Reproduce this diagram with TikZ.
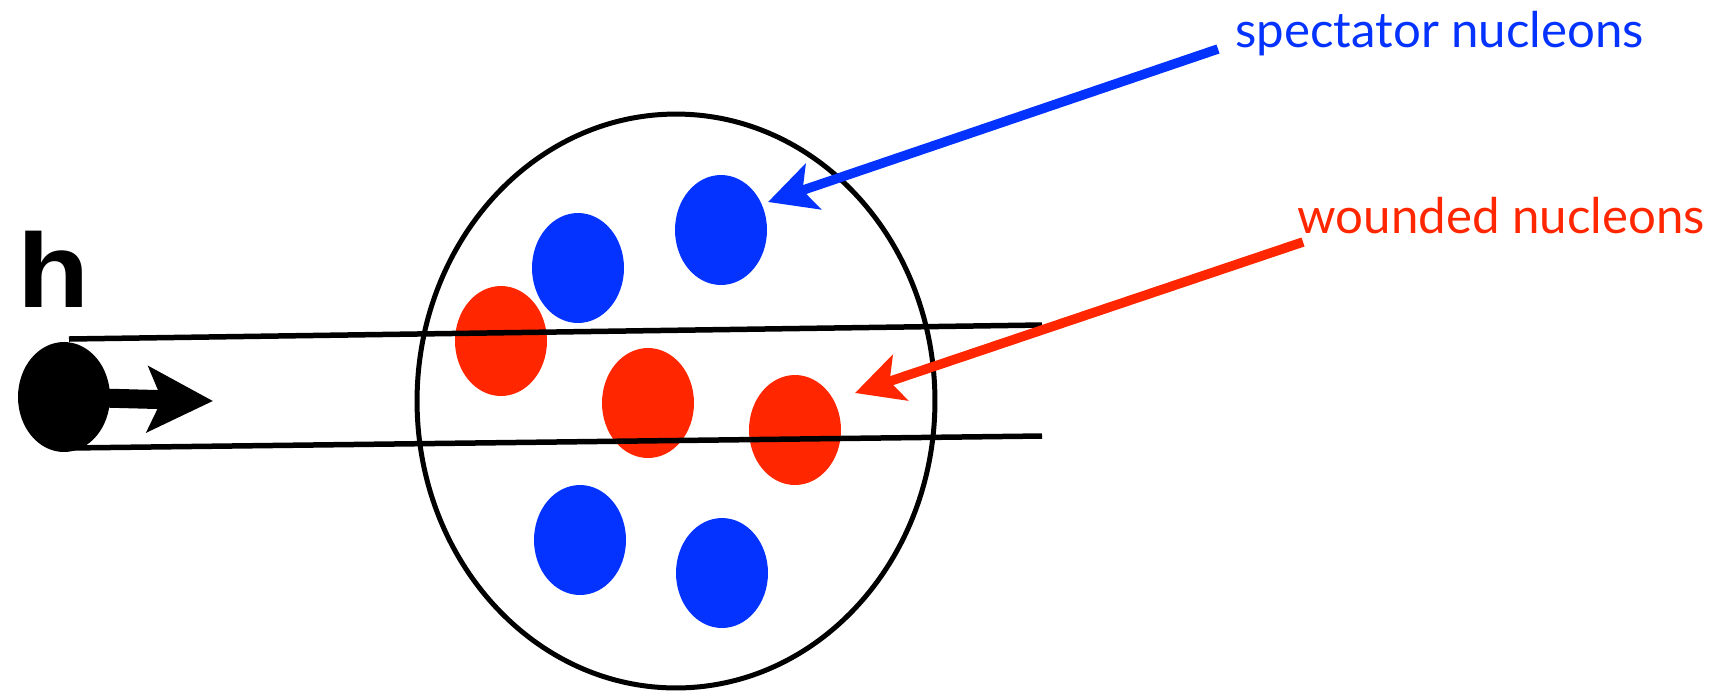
\documentclass[tikz,border=0pt]{standalone}
\usepackage{fontspec}
\setmainfont{Lato}
\newfontfamily\hfont{Liberation Sans}
\usetikzlibrary{arrows.meta,shapes.geometric}
\definecolor{specblue}{RGB}{4,51,255}
\definecolor{woundred}{RGB}{255,38,0}
\begin{document}
\begin{tikzpicture}[x=0.02cm,y=-0.02cm,
    nucleon/.style={ellipse,inner sep=0pt,minimum width=1.84cm,minimum height=2.2cm},
    spectator/.style={nucleon,fill=specblue},
    wounded/.style={nucleon,fill=woundred},
    pointer/.style={line width=0.19cm,-{Stealth[length=0.95cm,width=0.95cm,inset=0.22cm]}},
    beam/.style={line width=0.11cm},
    tagtext/.style={anchor=base west,inner sep=0pt,font=\fontsize{28}{32}\selectfont}]
          \useasboundingbox (0,0) rectangle (1734,691);

          % Nodes
          \node[ellipse,draw,line width=0.1cm,inner sep=0pt,minimum width=10.36cm,minimum height=11.48cm] (nucleus) at (676,401) {};
          \node[spectator] (s1) at (721,230) {};
          \node[spectator] (s2) at (578,268) {};
          \node[spectator] (s3) at (580,540) {};
          \node[spectator] (s4) at (722,573) {};
          \node[wounded] (w1) at (501,341) {};
          \node[wounded] (w2) at (648,403) {};
          \node[wounded] (w3) at (795,430) {};
          \node[ellipse,fill=black,inner sep=0pt,minimum width=1.84cm,minimum height=2.2cm] (hadron) at (64,397) {};
          \node[anchor=base west,font=\hfont\bfseries\fontsize{60}{62}\selectfont,inner sep=0pt] (h) at (17,307) {\scalebox{1.12}[1]{h}};

          % Labels
          \node[tagtext,text=specblue] (speclabel) at (1235,47) {spectator nucleons};
          \node[tagtext,text=woundred] (woundlabel) at (1297,233) {wounded nucleons};
          \coordinate (specstart) at (1218,49);
          \coordinate (spectip) at (768,202);
          \coordinate (woundstart) at (1303,242);
          \coordinate (woundtip) at (855,393);

          % Beam lines
          \coordinate (topleft) at (69,339);
          \coordinate (topright) at (1042,325);
          \coordinate (botleft) at (69,448);
          \coordinate (botright) at (1042,436);
          \draw[beam] (topleft) -- (topright);
          \draw[beam] (botleft) -- (botright);

          % Arrows
          \coordinate (hadrontip) at (213,401);
          \draw[line width=0.38cm,-{Stealth[length=1.3cm,width=1.3cm,inset=0.28cm]}] (hadron.center) -- (hadrontip);
          \draw[pointer,specblue] (specstart) -- (spectip);
          \draw[pointer,woundred] (woundstart) -- (woundtip);

        \end{tikzpicture}
\end{document}
